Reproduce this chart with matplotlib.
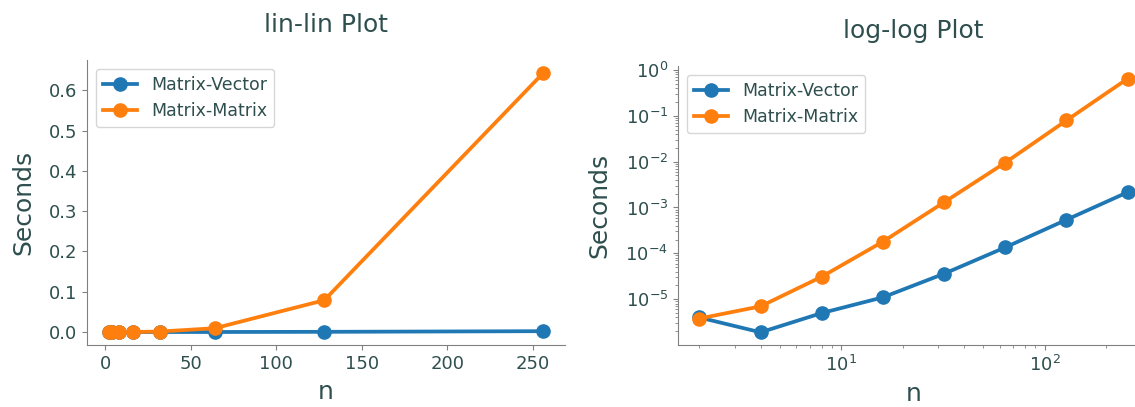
import matplotlib
matplotlib.use("Agg")
import matplotlib.pyplot as plt
from matplotlib.ticker import MultipleLocator

n = [2, 4, 8, 16, 32, 64, 128, 256]
matvec = [4.0e-6, 1.9e-6, 5.0e-6, 1.1e-5, 3.6e-5, 1.35e-4, 5.4e-4, 2.15e-3]
matmat = [3.8e-6, 7.0e-6, 3.1e-5, 1.8e-4, 1.3e-3, 9.5e-3, 7.9e-2, 0.643]
labels = ["Matrix-Vector", "Matrix-Matrix"]

txt = "#2f4f4f"
spine = "#808080"
plt.rcParams.update({
    "text.color": txt, "axes.labelcolor": txt,
    "xtick.color": spine, "ytick.color": spine,
    "xtick.labelcolor": txt, "ytick.labelcolor": txt,
    "axes.edgecolor": spine, "font.family": ["DejaVu Sans"],
})

fig = plt.figure(figsize=(11.35, 4.07), dpi=100)
W, H = 1135, 407
ax1 = fig.add_axes([87 / W, (H - 345) / H, (565 - 87) / W, (345 - 60) / H])
ax2 = fig.add_axes([678 / W, (H - 345) / H, (1149 - 678) / W, (345 - 66) / H])

for ax, title in [(ax1, "lin-lin Plot"), (ax2, "log-log Plot")]:
    ax.plot(n, matvec, "-o", color="#1f77b4", lw=2.7, ms=9.5, label=labels[0])
    ax.plot(n, matmat, "-o", color="#ff7f0e", lw=2.7, ms=9.5, label=labels[1])
    ax.set_title(title, fontsize=18, color=txt, pad=20)
    ax.set_xlabel("n", fontsize=18, labelpad=5)
    ax.set_ylabel("Seconds", fontsize=18, labelpad=10)
    ax.tick_params(labelsize=13)
    for s in ["top", "right"]:
        ax.spines[s].set_visible(False)
    ax.legend(fontsize=12.5, loc="upper left", frameon=True)

ax1.yaxis.set_major_locator(MultipleLocator(0.1))
ax2.set_xscale("log")
ax2.set_yscale("log")

fig.savefig("out.png", dpi=100)
